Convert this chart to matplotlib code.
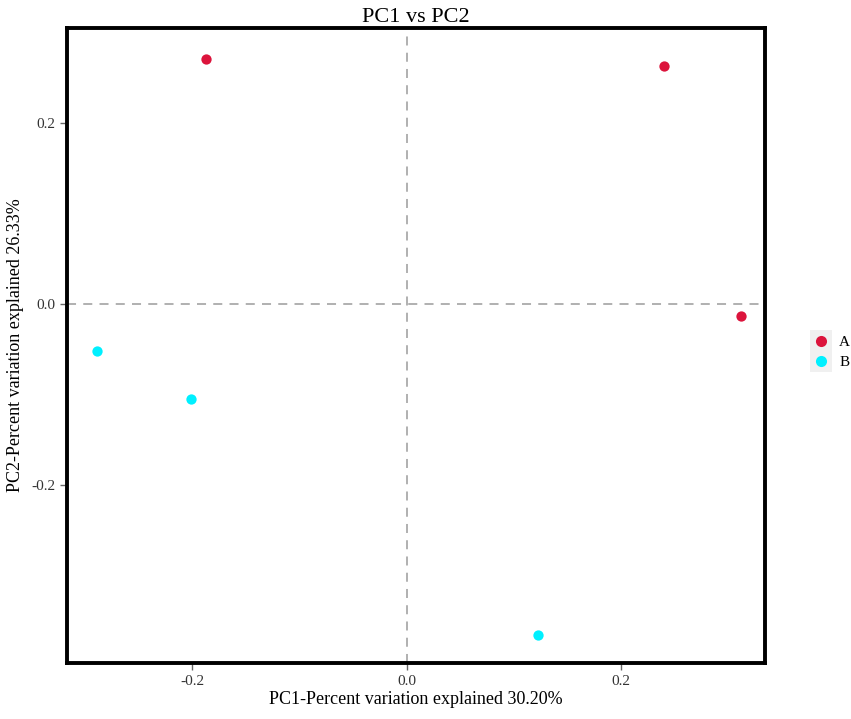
import matplotlib.pyplot as plt
from matplotlib.lines import Line2D

plt.rcParams['font.family'] = ['Liberation Serif', 'DejaVu Serif']

groups = ['A', 'B']
colors = {'A': '#DC143C', 'B': '#00F0FF'}
pc1_a = [-0.1875, 0.2397, 0.3116]
pc2_a = [0.271, 0.263, -0.0133]
pc1_b = [-0.289, -0.2015, 0.1222]
pc2_b = [-0.052, -0.105, -0.366]

fig = plt.figure(figsize=(8.51, 7.19), dpi=100)
ax = fig.add_axes([0.0787, 0.0779, 0.8202, 0.8832])

ax.axhline(0, color='#AAAAAA', linestyle=(0, (5, 4)), linewidth=1.3, zorder=1)
ax.axvline(0, color='#AAAAAA', linestyle=(0, (5, 4)), linewidth=1.3, zorder=1)

ax.scatter(pc1_a, pc2_a, s=55, color=colors['A'], zorder=3, linewidths=0)
ax.scatter(pc1_b, pc2_b, s=55, color=colors['B'], zorder=3, linewidths=0)

ax.set_xlim(-0.317, 0.334)
ax.set_ylim(-0.397, 0.305)
ax.set_xticks([-0.2, 0.0, 0.2])
ax.set_yticks([-0.2, 0.0, 0.2])
ax.set_xticklabels(['-0.2', '0.0', '0.2'])
ax.set_yticklabels(['-0.2', '0.0', '0.2'])
ax.tick_params(axis='both', colors='#666666', labelcolor='#333333', labelsize=11,
               length=5, width=1)
for sp in ax.spines.values():
    sp.set_linewidth(2.8)
    sp.set_color('black')

ax.set_title('PC1 vs PC2', fontsize=16, pad=4)
ax.set_xlabel('PC1-Percent variation explained 30.20%', fontsize=13, labelpad=2)
ax.set_ylabel('PC2-Percent variation explained 26.33%', fontsize=13, labelpad=5)

# legend keys: grey square with dot on top, like ggplot
handles = []
for g in groups:
    bg = Line2D([], [], marker='s', linestyle='none', markersize=16,
                markerfacecolor='#F0F0F0', markeredgewidth=0)
    dot = Line2D([], [], marker='o', linestyle='none', markersize=8,
                 markerfacecolor=colors[g], markeredgewidth=0)
    handles.append((bg, dot))
leg = fig.legend(handles, groups, loc='center left', bbox_to_anchor=(0.945, 0.51),
                 frameon=False, fontsize=11, handlelength=1.2, handletextpad=0.6,
                 labelspacing=0.45, borderpad=0)

fig.savefig('out.png', dpi=100)
